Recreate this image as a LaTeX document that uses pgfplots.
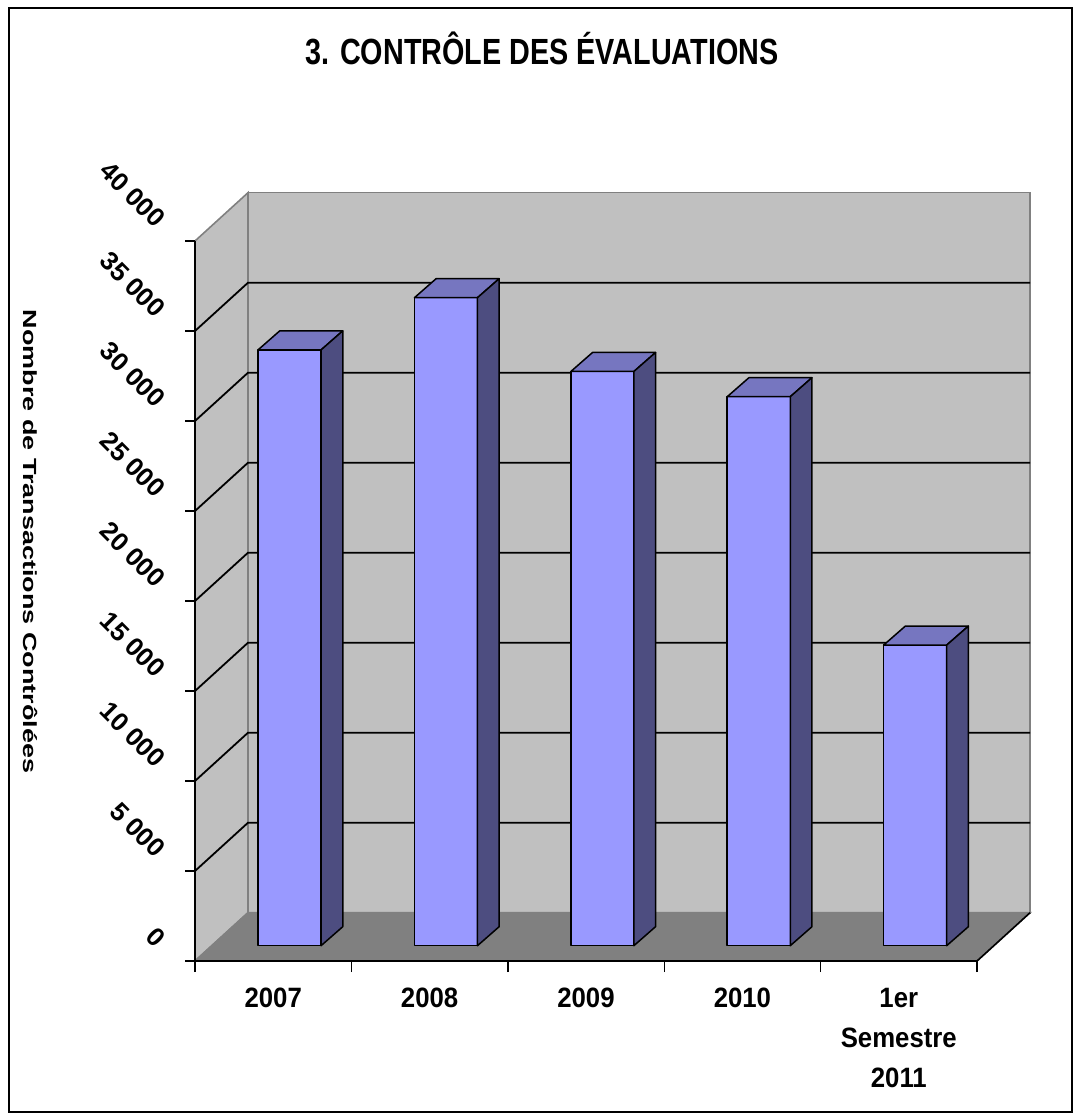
\documentclass[border=0pt]{standalone}
\usepackage{fontspec}
\setmainfont{Liberation Sans}
\newfontfamily\titlefont{Liberation Sans}[FakeStretch=0.79]
\newfontfamily\xlabfont{Liberation Sans}[FakeStretch=0.92]
\newfontfamily\ylabfont{Liberation Sans}[FakeStretch=1.42]
\usepackage{pgfplots}
\pgfplotsset{compat=1.18}

\definecolor{barfront}{HTML}{9999FF}
\definecolor{bartop}{HTML}{7676C0}
\definecolor{barside}{HTML}{4D4D80}
\definecolor{wallc}{HTML}{C0C0C0}
\definecolor{floorc}{HTML}{808080}

% 3D bar: #1 = category index, #2 = value
\newcommand\barthreed[2]{%
  \edef\temp{%
    \noexpand\addplot[fill=barfront,draw=black,line width=0.75pt,line join=round]
      coordinates {(\fpeval{#1-0.097},850) (\fpeval{#1+0.306},850) (\fpeval{#1+0.306},\fpeval{#2+850}) (\fpeval{#1-0.097},\fpeval{#2+850})} -- cycle;
    \noexpand\addplot[fill=bartop,draw=black,line width=0.75pt,line join=round]
      coordinates {(\fpeval{#1-0.097},\fpeval{#2+850}) (\fpeval{#1+0.306},\fpeval{#2+850}) (\fpeval{#1+0.4447},\fpeval{#2+1906}) (\fpeval{#1+0.0417},\fpeval{#2+1906})} -- cycle;
    \noexpand\addplot[fill=barside,draw=black,line width=0.75pt,line join=round]
      coordinates {(\fpeval{#1+0.306},850) (\fpeval{#1+0.4447},1906) (\fpeval{#1+0.4447},\fpeval{#2+1906}) (\fpeval{#1+0.306},\fpeval{#2+850})} -- cycle;
  }\temp}
% gridline on left wall and back wall at value #1
\newcommand\gridline[1]{%
  \edef\temp{\noexpand\addplot[black,line width=0.9pt] coordinates {(-0.5,#1) (-0.1611,\fpeval{#1+2683}) (4.8389,\fpeval{#1+2683})};}\temp}

\begin{document}
\begin{tikzpicture}
\useasboundingbox (0,0) rectangle (538pt,558.5pt);
\fill[white] (0,0) rectangle (538pt,558.5pt);
\begin{axis}[
  at={(97.5pt,78pt)}, anchor=south west,
  scale only axis, width=391pt, height=360pt,
  xmin=-0.5, xmax=4.5, ymin=0, ymax=40000,
  clip=false,
  axis on top,
  scaled y ticks=false,
  axis x line*=bottom, axis y line*=left,
  axis line style={black, line width=0.8pt},
  tick align=outside,
  xtick={0,1,2,3,4},
  xticklabels={2007,2008,2009,2010,{1er\\Semestre\\2011}},
  minor xtick={-0.5,0.5,1.5,2.5,3.5,4.5},
  major x tick style={draw=none},
  minor x tick style={black, line width=0.7pt},
  ytick={0,5000,10000,15000,20000,25000,30000,35000,40000},
  yticklabels={0,5 000,10 000,15 000,20 000,25 000,30 000,35 000,40 000},
  ytick style={black, line width=0.7pt},
  major tick length=5pt, minor tick length=5.5pt,
  xticklabel style={font=\xlabfont\bfseries\fontsize{14}{20}\selectfont, align=center, anchor=north, inner sep=0pt, yshift=-8.5pt},
  yticklabel style={font=\bfseries\fontsize{13}{13}\selectfont, inner sep=0pt, anchor=east, xshift=-12pt, yshift=9pt, rotate=-45},
  title={3. CONTRÔLE DES ÉVALUATIONS},
  title style={at={(axis description cs:0.4437,1.2458)}, anchor=base, yshift=-6pt, font=\titlefont\bfseries\fontsize{18.2}{20}\selectfont},
  ylabel={Nombre de Transactions Contrôlées},
  ylabel style={at={(axis description cs:-0.2187,0.5826)}, anchor=base, rotate=180, font=\ylabfont\bfseries\fontsize{9.5}{10}\selectfont},
]
% back wall
\addplot[fill=wallc, draw=floorc, line width=0.8pt] coordinates {(-0.1611,2683) (4.8389,2683) (4.8389,42683) (-0.1611,42683)} -- cycle;
% left wall
\addplot[fill=wallc, draw=floorc, line width=0.8pt] coordinates {(-0.5,0) (-0.1611,2683) (-0.1611,42683) (-0.5,40000)} -- cycle;
% floor
\addplot[fill=floorc, draw=floorc, line width=0.8pt] coordinates {(-0.5,0) (4.5,0) (4.8389,2683) (-0.1611,2683)} -- cycle;
\addplot[black, line width=0.8pt] coordinates {(4.5,0) (4.8389,2683)};
% gridlines
\gridline{5000}
\gridline{10000}
\gridline{15000}
\gridline{20000}
\gridline{25000}
\gridline{30000}
\gridline{35000}
% bars
\barthreed{0}{33100}
\barthreed{1}{36000}
\barthreed{2}{31900}
\barthreed{3}{30500}
\barthreed{4}{16700}
\end{axis}
\draw[black, line width=0.75pt] (4.5pt,2.5pt) rectangle (536pt,554.5pt);
\end{tikzpicture}
\end{document}
